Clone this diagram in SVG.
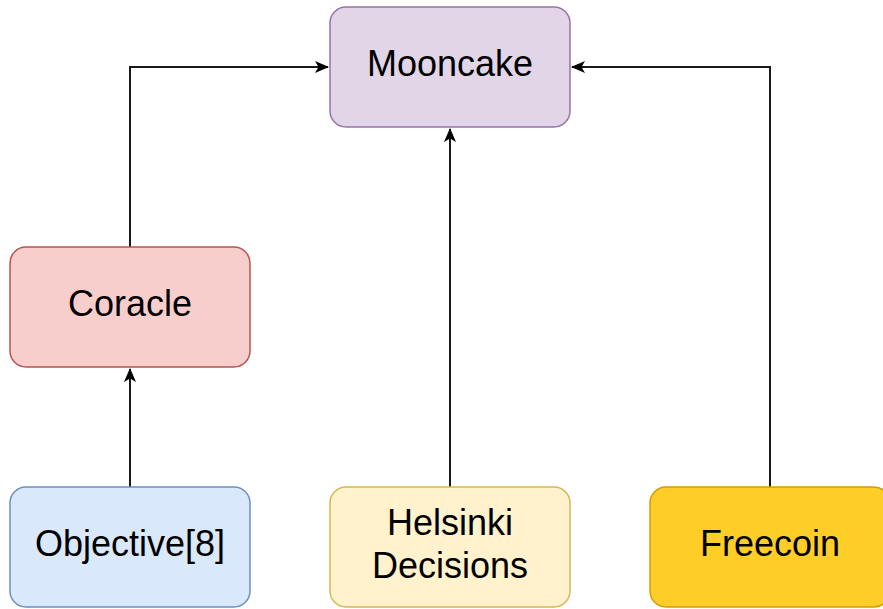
<svg xmlns="http://www.w3.org/2000/svg" width="883" height="609" viewBox="0 0 883 609">
<style>
.node rect{stroke-width:1.5}
.node text{font-family:"Liberation Sans",Arial,sans-serif;font-size:36px;fill:#000;text-anchor:middle}
.edge{fill:none;stroke:#1a1a1a;stroke-width:2}
</style>
<defs>
<marker id="arr" viewBox="0 0 14 12" refX="13" refY="6" markerWidth="14" markerHeight="12" markerUnits="userSpaceOnUse" orient="auto">
<path d="M0,0 L14,6 L0,12 L3.5,6 Z" fill="#000"/>
</marker>
</defs>
<rect width="883" height="609" fill="#fff"/>
<g id="connectors">
<path class="edge" d="M130,487 L130,369" marker-end="url(#arr)"/>
<path class="edge" d="M130,247 L130,67 L328,67" marker-end="url(#arr)"/>
<path class="edge" d="M450,487 L450,129" marker-end="url(#arr)"/>
<path class="edge" d="M770,487 L770,67 L572,67" marker-end="url(#arr)"/>
</g>
<g id="mooncake" class="node">
<rect x="330" y="7" width="240" height="120" rx="16" fill="#e1d5e7" stroke="#9673a6"/>
<text x="450" y="76">Mooncake</text>
</g>
<g id="coracle" class="node">
<rect x="10" y="247" width="240" height="120" rx="16" fill="#f8cecc" stroke="#b85450"/>
<text x="130" y="316">Coracle</text>
</g>
<g id="objective8" class="node">
<rect x="10" y="487" width="240" height="120" rx="16" fill="#dae8fc" stroke="#6c8ebf"/>
<text x="130" y="556">Objective[8]</text>
</g>
<g id="helsinki" class="node">
<rect x="330" y="487" width="240" height="120" rx="16" fill="#fff2cc" stroke="#d6b656"/>
<text x="450" y="535">Helsinki</text>
<text x="450" y="578">Decisions</text>
</g>
<g id="freecoin" class="node">
<rect x="650" y="487" width="240" height="120" rx="16" fill="#ffcd28" stroke="#d79b00"/>
<text x="770" y="556">Freecoin</text>
</g>
</svg>
